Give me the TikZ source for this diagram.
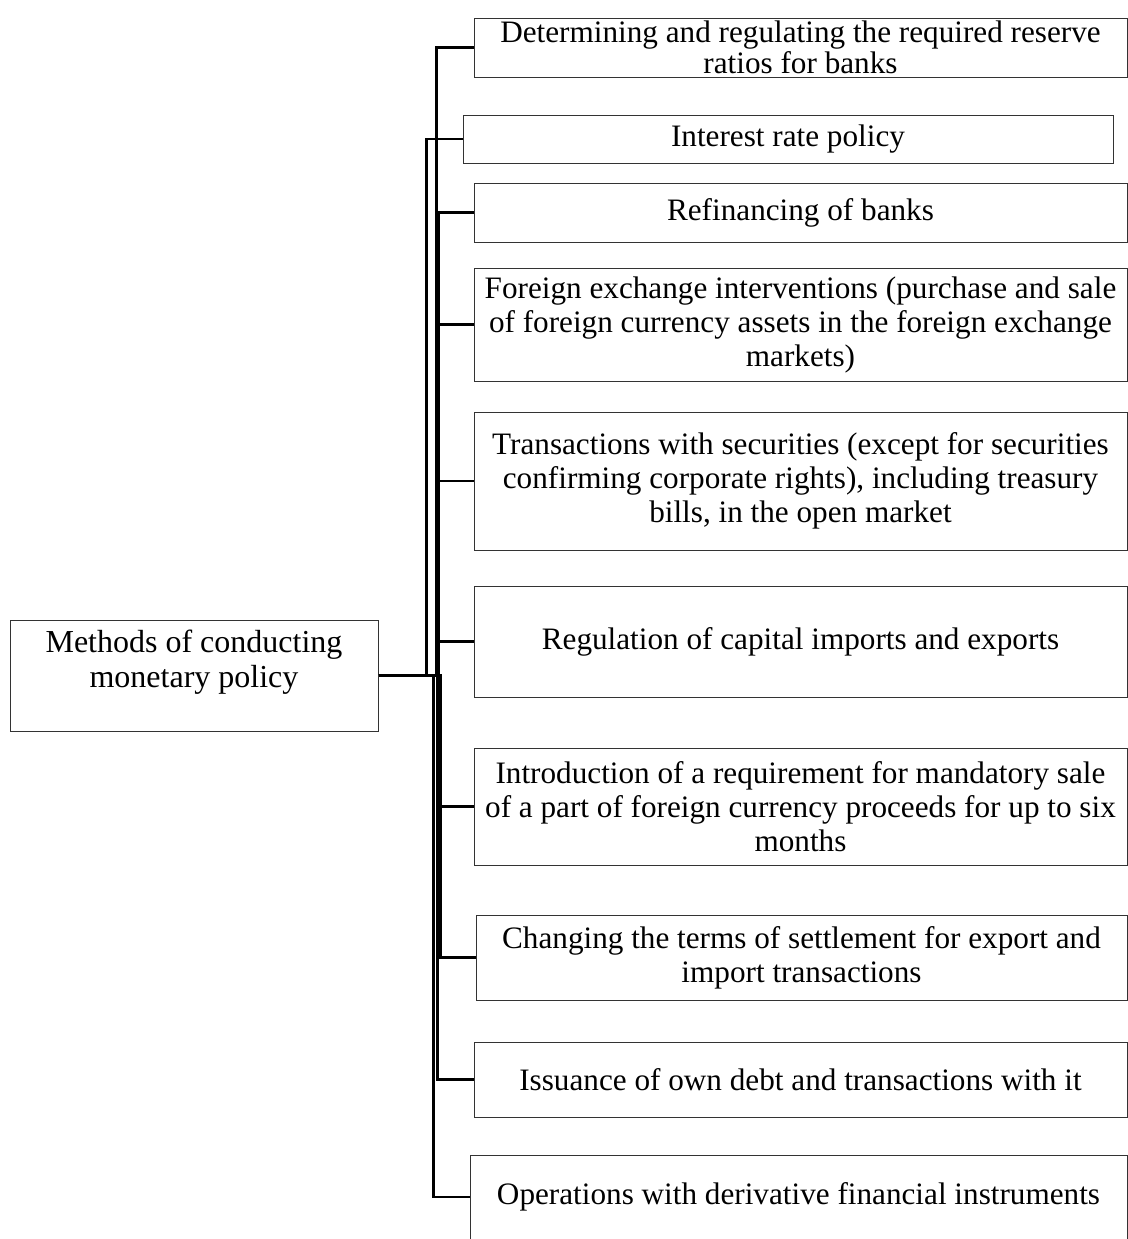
\documentclass[tikz,border=0pt]{standalone}
\usepackage{fontspec}
\setmainfont{Liberation Serif}
\usepackage{tikz}
\usetikzlibrary{positioning}
\tikzset{
  method/.style={draw=black!80, line width=0.5pt, minimum width=184pt, minimum height=55.5pt, inner sep=0pt, align=center, font=\fontsize{16}{17.5}\selectfont},
  way/.style={draw=black!80, line width=0.5pt, minimum width=326.5pt, inner sep=0pt, align=center, font=\fontsize{15.6}{17}\selectfont},
  link/.style={line width=1.2pt, black},
}

\begin{document}
\begin{tikzpicture}[x=0.5pt, y=-0.5pt]
        \useasboundingbox (0,0) rectangle (1128,1239);
        \node[method] (M) at (194,675.5) {\raisebox{6.5pt}[\height][\depth]{\begin{tabular}{@{}c@{}}Methods of conducting\\monetary policy\end{tabular}}};
        \node[way,minimum height=29.5pt,font=\fontsize{15.6}{15.5}\selectfont] (W1) at (800.5,47.5) {Determining and regulating the required reserve\\ratios for banks};
        \node[way,minimum width=325pt,minimum height=24pt] (W2) at (788,139) {Interest rate policy};
        \node[way,minimum height=29.5pt] (W3) at (800.5,212.5) {Refinancing of banks};
        \node[way,minimum height=56.5pt] (W4) at (800.5,324.5) {Foreign exchange interventions (purchase and sale\\of foreign currency assets in the foreign exchange\\markets)};
        \node[way,minimum height=69pt] (W5) at (800.5,481) {Transactions with securities (except for securities\\confirming corporate rights), including treasury\\bills, in the open market};
        \node[way,minimum height=55.5pt] (W6) at (800.5,641.5) {Regulation of capital imports and exports};
        \node[way,minimum height=58.5pt] (W7) at (800.5,806.5) {Introduction of a requirement for mandatory sale\\of a part of foreign currency proceeds for up to six\\months};
        \node[way,minimum width=325.5pt,minimum height=42.5pt] (W8) at (801.5,957.5) {Changing the terms of settlement for export and\\import transactions};
        \node[way,minimum height=37.5pt] (W9) at (800.5,1079.5) {Issuance of own debt and transactions with it};
        \node[way,minimum width=328.5pt,minimum height=42pt] (W10) at (798.5,1197) {Operations with derivative financial instruments};
        % elbows from the main box
        \draw[link] (M.east) -- ++(58,0) |- (W1.west);
        \draw[link] (M.east) -- ++(48,0) |- (W2.west);
        \draw[link] (M.east) -- ++(60,0) |- (W3.west);
        \draw[link] (M.east) -- ++(60,0) |- (W4.west);
        \draw[link] (M.east) -- ++(60,0) |- (W5.west);
        \draw[link] (M.east) -- ++(60,0) |- (W6.west);
        \draw[link] (M.east) -- ++(62,0) |- (W7.west);
        \draw[link] (M.east) -- ++(62,0) |- (W8.west);
        \draw[link] (M.east) -- ++(59,0) |- (W9.west);
        \draw[link] (M.east) -- ++(55,0) |- (W10.west);
      \end{tikzpicture}
\end{document}
